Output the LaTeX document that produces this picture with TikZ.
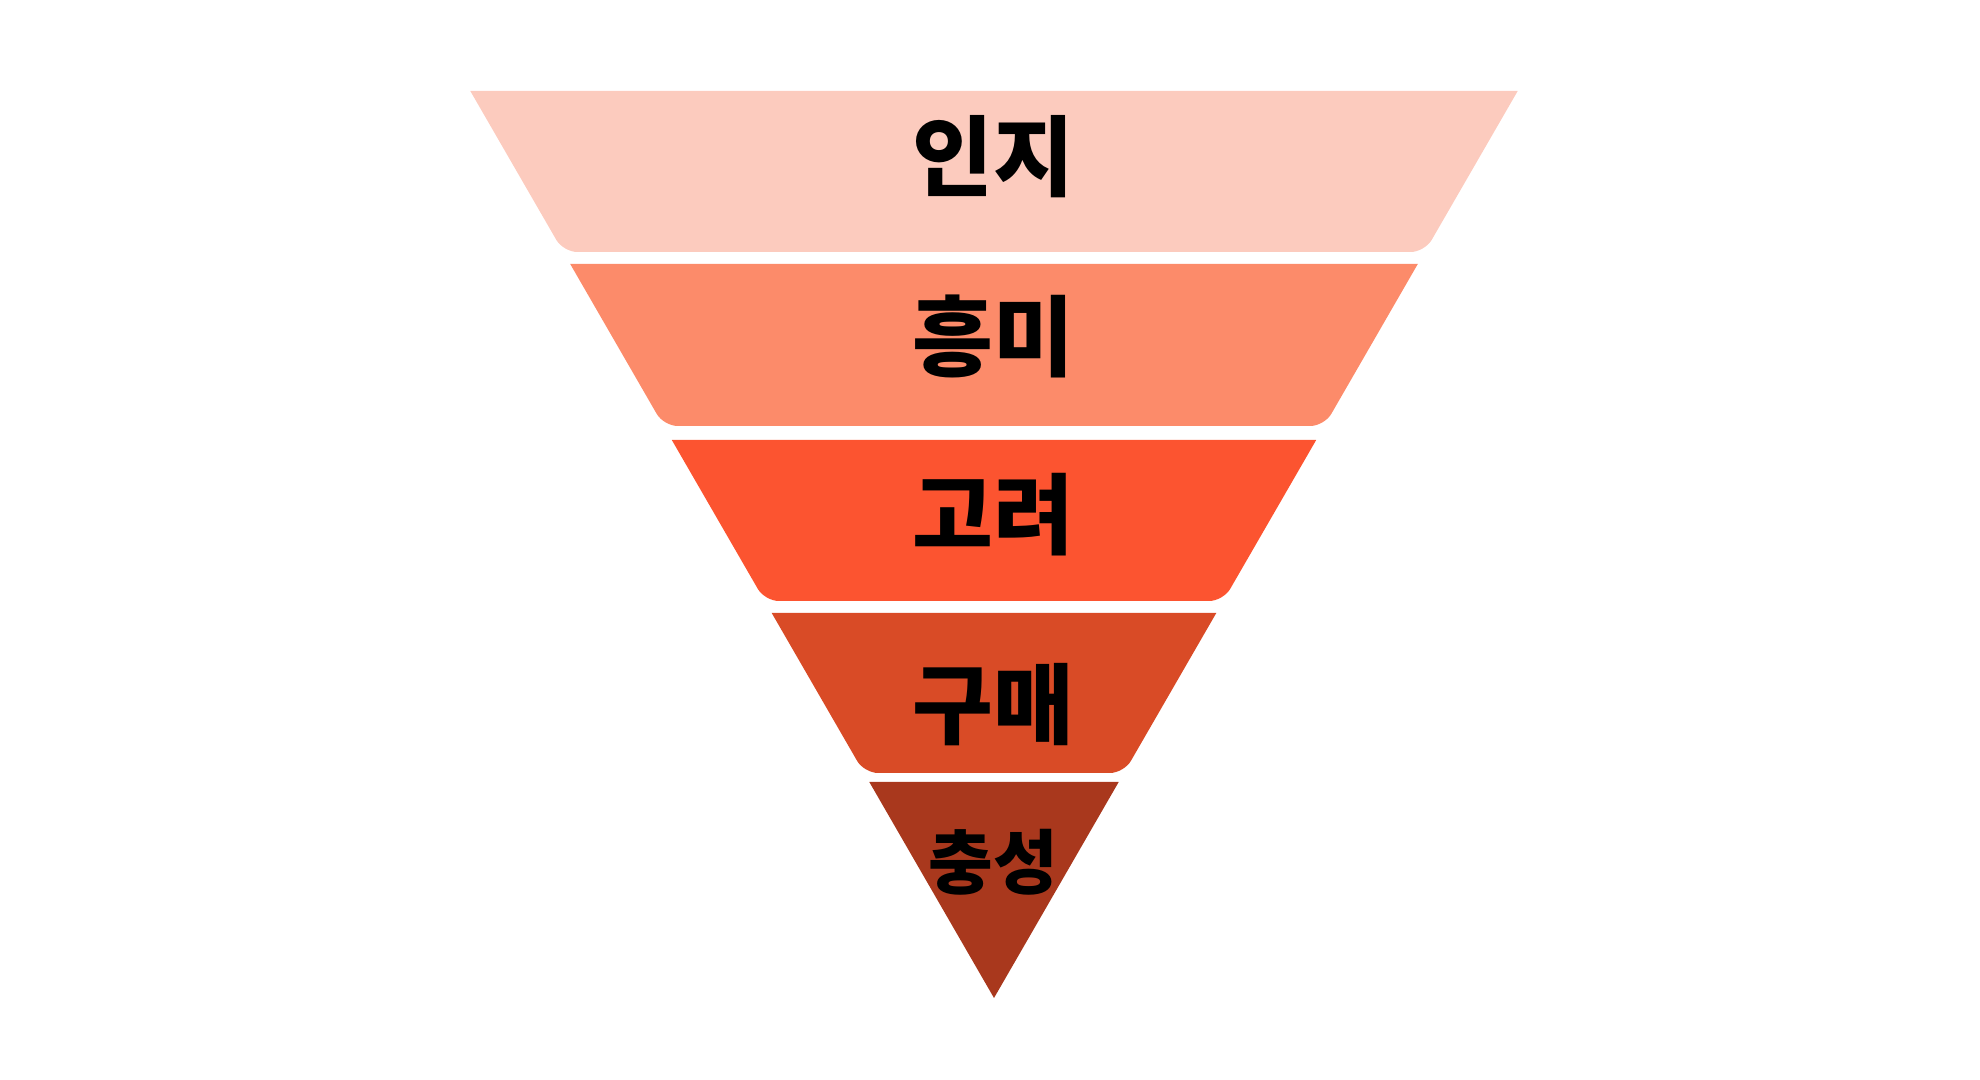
\documentclass[tikz,border=0pt]{standalone}
\usepackage{fontspec}
\usepackage{tikz}
\usetikzlibrary{calc}
\newfontfamily\krfont{Noto Sans CJK KR}
\definecolor{stageA}{RGB}{252,203,190}
\definecolor{stageB}{RGB}{252,139,106}
\definecolor{stageC}{RGB}{252,84,48}
\definecolor{stageD}{RGB}{217,75,38}
\definecolor{stageE}{RGB}{169,56,29}

\begin{document}
\begin{tikzpicture}[
                band/.style={line width=0pt},
                stage label/.style={inner sep=0pt, text=black, font=\krfont\bfseries\fontsize{25}{29}\selectfont},
                small label/.style={stage label, font=\krfont\bfseries\fontsize{20}{24}\selectfont}]

            \useasboundingbox (0, 0) rectangle (19.8, 10.8);

            \fill[band, stageA] (4.703, 9.89) -- (15.177, 9.89) [rounded corners=0.14cm] -- (14.247, 8.28) -- (5.633, 8.28) [sharp corners] -- cycle;
            \fill[band, stageB] (5.702, 8.16) -- (14.178, 8.16) [rounded corners=0.14cm] -- (13.243, 6.54) -- (6.637, 6.54) [sharp corners] -- cycle;
            \fill[band, stageC] (6.718, 6.40) -- (13.162, 6.40) [rounded corners=0.14cm] -- (12.232, 4.79) -- (7.648, 4.79) [sharp corners] -- cycle;
            \fill[band, stageD] (7.717, 4.67) -- (12.163, 4.67) [rounded corners=0.14cm] -- (11.239, 3.07) -- (8.641, 3.07) [sharp corners] -- cycle;
            \fill[band, stageE] (8.693, 2.98) -- (11.187, 2.98) -- (9.94, 0.82) -- cycle;

            \node[stage label] (awareness) at (9.93, 9.23) {인지};
            \node[stage label] (interest) at (9.93, 7.44) {흥미};
            \node[stage label] (consideration) at (9.93, 5.65) {고려};
            \node[stage label] (purchase) at (9.93, 3.75) {구매};
            \node[small label] (loyalty) at (9.93, 2.18) {충성};
        \end{tikzpicture}
\end{document}
